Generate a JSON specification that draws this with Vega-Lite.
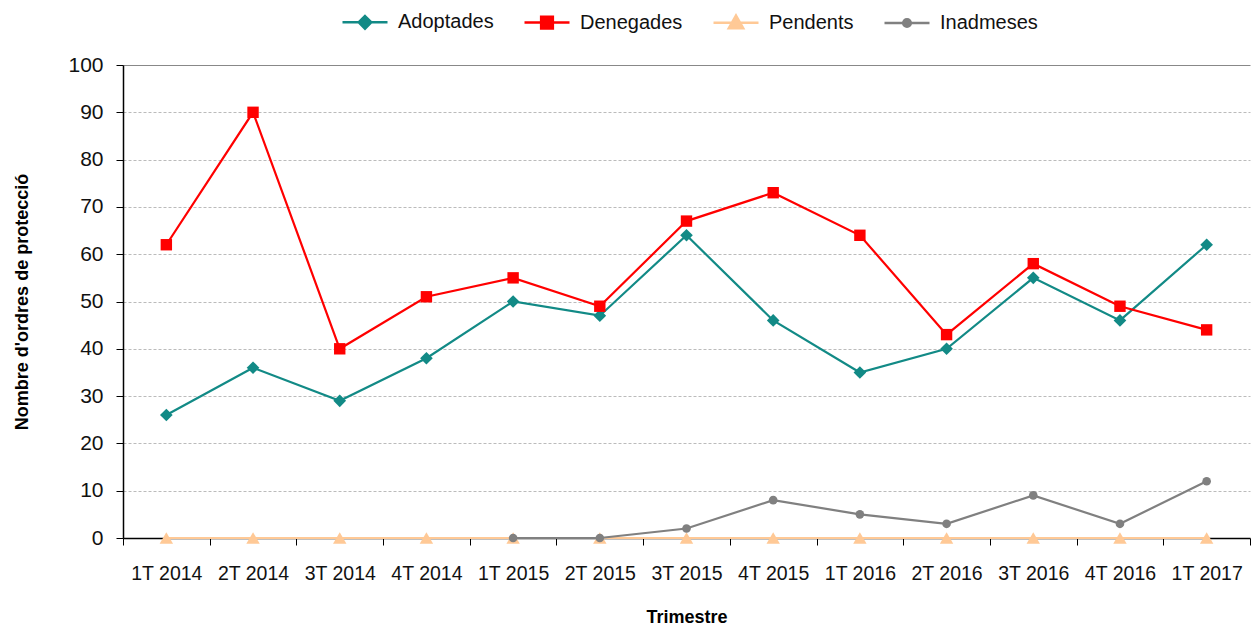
{
  "$schema": "https://vega.github.io/schema/vega-lite/v6.json",
  "width": 1127,
  "height": 473,
  "autosize": "none",
  "padding": {"left": 123, "top": 65, "right": 2, "bottom": 89},
  "background": "white",
  "config": {
    "font": "Liberation Sans",
    "view": {"stroke": null}
  },
  "data": {"values": [
    {"q": "1T 2014", "s": "Adoptades", "v": 26}, {"q": "2T 2014", "s": "Adoptades", "v": 36}, {"q": "3T 2014", "s": "Adoptades", "v": 29}, {"q": "4T 2014", "s": "Adoptades", "v": 38}, {"q": "1T 2015", "s": "Adoptades", "v": 50}, {"q": "2T 2015", "s": "Adoptades", "v": 47}, {"q": "3T 2015", "s": "Adoptades", "v": 64}, {"q": "4T 2015", "s": "Adoptades", "v": 46}, {"q": "1T 2016", "s": "Adoptades", "v": 35}, {"q": "2T 2016", "s": "Adoptades", "v": 40}, {"q": "3T 2016", "s": "Adoptades", "v": 55}, {"q": "4T 2016", "s": "Adoptades", "v": 46}, {"q": "1T 2017", "s": "Adoptades", "v": 62},
    {"q": "1T 2014", "s": "Denegades", "v": 62}, {"q": "2T 2014", "s": "Denegades", "v": 90}, {"q": "3T 2014", "s": "Denegades", "v": 40}, {"q": "4T 2014", "s": "Denegades", "v": 51}, {"q": "1T 2015", "s": "Denegades", "v": 55}, {"q": "2T 2015", "s": "Denegades", "v": 49}, {"q": "3T 2015", "s": "Denegades", "v": 67}, {"q": "4T 2015", "s": "Denegades", "v": 73}, {"q": "1T 2016", "s": "Denegades", "v": 64}, {"q": "2T 2016", "s": "Denegades", "v": 43}, {"q": "3T 2016", "s": "Denegades", "v": 58}, {"q": "4T 2016", "s": "Denegades", "v": 49}, {"q": "1T 2017", "s": "Denegades", "v": 44},
    {"q": "1T 2014", "s": "Pendents", "v": 0}, {"q": "2T 2014", "s": "Pendents", "v": 0}, {"q": "3T 2014", "s": "Pendents", "v": 0}, {"q": "4T 2014", "s": "Pendents", "v": 0}, {"q": "1T 2015", "s": "Pendents", "v": 0}, {"q": "2T 2015", "s": "Pendents", "v": 0}, {"q": "3T 2015", "s": "Pendents", "v": 0}, {"q": "4T 2015", "s": "Pendents", "v": 0}, {"q": "1T 2016", "s": "Pendents", "v": 0}, {"q": "2T 2016", "s": "Pendents", "v": 0}, {"q": "3T 2016", "s": "Pendents", "v": 0}, {"q": "4T 2016", "s": "Pendents", "v": 0}, {"q": "1T 2017", "s": "Pendents", "v": 0},
    {"q": "1T 2015", "s": "Inadmeses", "v": 0}, {"q": "2T 2015", "s": "Inadmeses", "v": 0}, {"q": "3T 2015", "s": "Inadmeses", "v": 2}, {"q": "4T 2015", "s": "Inadmeses", "v": 8}, {"q": "1T 2016", "s": "Inadmeses", "v": 5}, {"q": "2T 2016", "s": "Inadmeses", "v": 3}, {"q": "3T 2016", "s": "Inadmeses", "v": 9}, {"q": "4T 2016", "s": "Inadmeses", "v": 3}, {"q": "1T 2017", "s": "Inadmeses", "v": 12}
  ]},
  "encoding": {
    "x": {
      "field": "q", "type": "ordinal", "sort": null,
      "scale": {"type": "band", "paddingInner": 0, "paddingOuter": 0},
      "axis": {
        "title": "Trimestre", "titleFontSize": 18, "titleFontWeight": "bold", "titleColor": "#000", "titlePadding": 26,
        "labelAngle": 0, "labelFontSize": 19.5, "labelColor": "#111", "labelPadding": 19,
        "tickBand": "extent", "tickSize": 7, "tickColor": "#000", "domainColor": "#000", "domainWidth": 1.5, "grid": false
      }
    },
    "y": {
      "field": "v", "type": "quantitative",
      "scale": {"domain": [0, 100], "nice": false},
      "axis": {
        "title": "Nombre d'ordres de protecció", "titleFontSize": 18, "titleFontWeight": "bold", "titleColor": "#000", "titlePadding": 36,
        "values": [0, 10, 20, 30, 40, 50, 60, 70, 80, 90, 100],
        "labelFontSize": 21, "labelColor": "#111", "labelPadding": 13,
        "tickSize": 7, "tickColor": "#000", "domainColor": "#000", "domainWidth": 1.5,
        "grid": true,
        "gridColor": {"condition": {"test": "datum.value === 100", "value": "#888"}, "value": "#bbb"},
        "gridDash": {"condition": {"test": "datum.value === 100", "value": []}, "value": [3, 2]},
        "gridWidth": {"condition": {"test": "datum.value === 0", "value": 0}, "value": 1}
      }
    },
    "color": {
      "field": "s", "type": "nominal",
      "scale": {"domain": ["Adoptades", "Denegades", "Pendents", "Inadmeses"], "range": ["#128A86", "#FF0000", "#FFC996", "#808080"]},
      "legend": {
        "orient": "none", "legendX": 218, "legendY": -67, "direction": "horizontal", "title": null,
        "labelFontSize": 20, "labelColor": "#111", "labelOffset": 9, "columnPadding": 25,
        "symbolSize": 2025, "symbolStrokeWidth": 2.5,
        "encode": {"symbols": {"update": {
          "shape": {"signal": "datum.value === 'Adoptades' ? 'M-1,0L1,0M0,-0.28L0.28,0L0,0.28L-0.28,0Z' : datum.value === 'Denegades' ? 'M-1,0L1,0M-0.26,-0.26L0.26,-0.26L0.26,0.26L-0.26,0.26Z' : datum.value === 'Pendents' ? 'M-1,0L1,0M0,-0.32L0.32,0.24L-0.32,0.24Z' : 'M-1,0L1,0M-0.17,0A0.17,0.17,0,1,1,0.17,0A0.17,0.17,0,1,1,-0.17,0Z'"},
          "fill": {"signal": "scale('color', datum.value)"},
          "stroke": {"signal": "scale('color', datum.value)"},
          "strokeWidth": {"value": 2.5},
          "size": {"value": 2025},
          "opacity": {"value": 1}
        }}}
      }
    }
  },
  "layer": [
    {"mark": {"type": "line", "strokeWidth": 2.2}},
    {"transform": [{"filter": "datum.s === 'Adoptades'"}], "mark": {"type": "point", "filled": true, "opacity": 1, "shape": "diamond", "size": 160}},
    {"transform": [{"filter": "datum.s === 'Denegades'"}], "mark": {"type": "point", "filled": true, "opacity": 1, "shape": "square", "size": 130}},
    {"transform": [{"filter": "datum.s === 'Pendents'"}], "mark": {"type": "point", "filled": true, "opacity": 1, "shape": "triangle-up", "size": 180}},
    {"transform": [{"filter": "datum.s === 'Inadmeses'"}], "mark": {"type": "point", "filled": true, "opacity": 1, "shape": "circle", "size": 75}}
  ]
}
